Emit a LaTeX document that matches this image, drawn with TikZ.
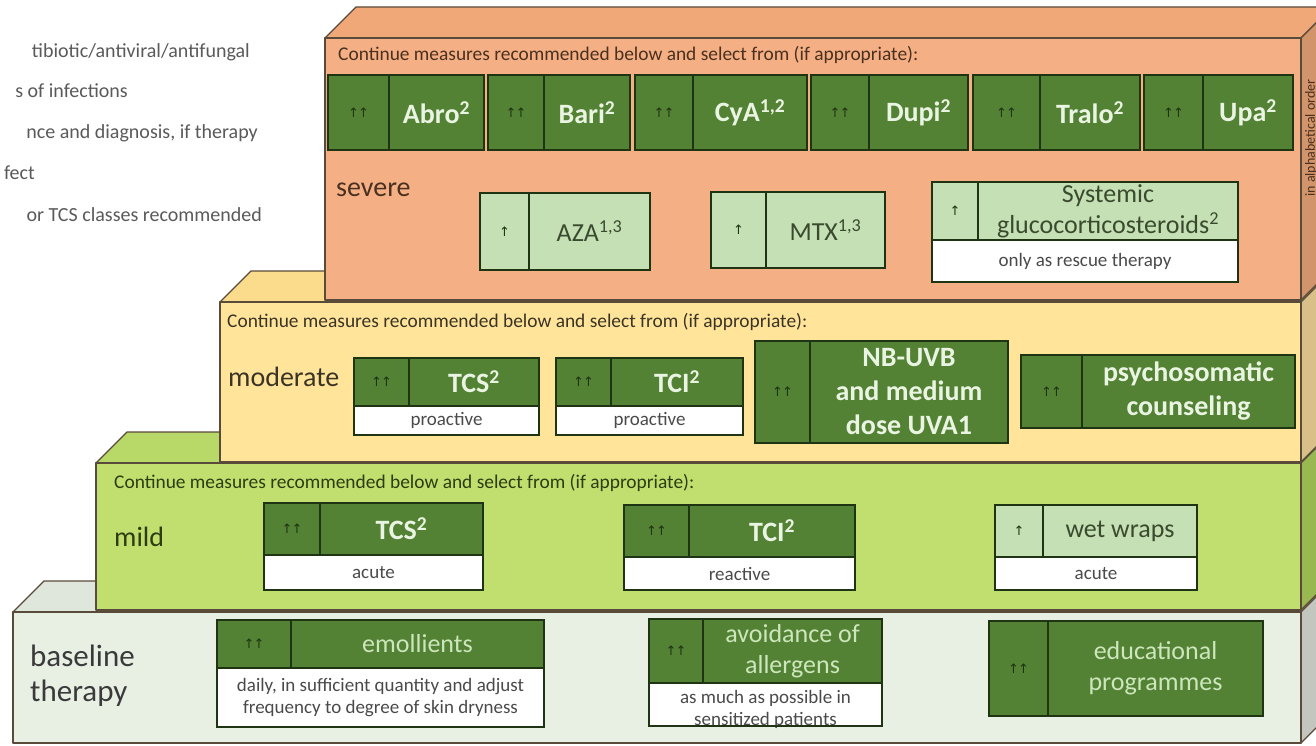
\documentclass[tikz,border=0pt]{standalone}
\usepackage{fontspec}
\setmainfont{Carlito}
\newfontfamily\arrowfont{DejaVu Sans}
\definecolor{sevF}{HTML}{F4B084}
\definecolor{sevT}{HTML}{F0A878}
\definecolor{sevS}{HTML}{D2946A}
\definecolor{modF}{HTML}{FFE49A}
\definecolor{modT}{HTML}{FBDC8C}
\definecolor{modS}{HTML}{D8C088}
\definecolor{milF}{HTML}{C0DF6E}
\definecolor{milT}{HTML}{B8D868}
\definecolor{milS}{HTML}{9AB852}
\definecolor{basF}{HTML}{E8F0E4}
\definecolor{basT}{HTML}{DFE6DB}
\definecolor{basS}{HTML}{C2C6BF}
\definecolor{dkG}{HTML}{548235}
\definecolor{ltG}{HTML}{C5E0B4}
\definecolor{boxedge}{HTML}{1E3412}
\definecolor{layeredge}{HTML}{5A4A3A}
\definecolor{txtlight}{HTML}{EAF4E2}
\definecolor{txtpale}{HTML}{CDE6BC}
\definecolor{txtdark}{HTML}{3A4A2E}
\definecolor{notegrey}{HTML}{4A4A4A}
\definecolor{leggrey}{HTML}{5A5A5A}
\definecolor{sevtxt}{HTML}{4A3020}
\definecolor{modtxt}{HTML}{3A3426}
\definecolor{miltxt}{HTML}{2E3C14}
\definecolor{bastxt}{HTML}{3A3A3A}

\newcommand{\pyrlayer}[7]{%
  \draw[layerline, fill=#5] (#1,#2) -- ({#1+31},{#2-31}) -- (1332,{#2-31}) -- (1301,#2) -- cycle;
  \draw[layerline, fill=#6] (1301,#2) -- (1332,{#2-31}) -- (1332,{#3-31}) -- (1301,#3) -- cycle;
  \draw[layerline, fill=#4] (#1,#2) rectangle (1301,#3);
  \coordinate (#7) at (#1,#2);
}
\newcommand{\dkbox}[8]{%
  \draw[boxline, fill=dkG] (#2,#5) rectangle (#4,#6);
  \draw[boxline] (#3,#5) -- (#3,#6);
  \node[arr] (#1-ar) at ({(#2+#3)/2},{(#5+#6)/2}) {#7};
  \node[dktxt] (#1) at ({(#3+#4)/2},{(#5+#6)/2}) {#8};
}
\newcommand{\ltbox}[8]{%
  \draw[boxline, fill=ltG] (#2,#5) rectangle (#4,#6);
  \draw[boxline] (#3,#5) -- (#3,#6);
  \node[arr] (#1-ar) at ({(#2+#3)/2},{(#5+#6)/2}) {#7};
  \node[lttxt] (#1) at ({(#3+#4)/2},{(#5+#6)/2}) {#8};
}
\newcommand{\notebox}[6]{%
  \draw[boxline, fill=white] (#2,#4) rectangle (#3,#5);
  \node[notetxt] (#1) at ({(#2+#3)/2},{(#4+#5)/2}) {#6};
}

\begin{document}
\begin{tikzpicture}[x=1pt,y=-1pt,
  layerline/.style={draw=layeredge, line width=1.3pt, line join=round},
  boxline/.style={draw=boxedge, line width=1.8pt},
  arr/.style={font=\arrowfont\fontsize{13}{13}\selectfont, text=boxedge, inner sep=0pt},
  dktxt/.style={font=\bfseries\fontsize{28}{34}\selectfont, text=txtlight, align=center, inner sep=0pt},
  lttxt/.style={font=\fontsize{26}{31}\selectfont, text=txtdark, align=center, inner sep=0pt},
  notetxt/.style={font=\fontsize{19}{22}\selectfont, text=notegrey, align=center, inner sep=0pt},
  conttxt/.style={anchor=west, font=\fontsize{19.4}{22}\selectfont, inner sep=0pt},
  lvltxt/.style={anchor=west, font=\fontsize{28}{32}\selectfont, inner sep=0pt},
  legtxt/.style={anchor=base east, font=\fontsize{20}{22}\selectfont, text=leggrey, inner sep=0pt}]
\useasboundingbox[fill=white] (0,0) rectangle (1316,746);
\clip (0,0) rectangle (1316,746);

% legend fragments
\node[legtxt] (leg1) at (250,58) {tibiotic/antiviral/antifungal};
\node[legtxt] (leg2) at (128,98) {s of infections};
\node[legtxt] (leg3) at (258,139) {nce and diagnosis, if therapy};
\node[legtxt] (leg4) at (35,179) {fect};
\node[legtxt] (leg5) at (262,221) {or TCS classes recommended};

% layers (bottom first)
\pyrlayer{13}{612}{743}{basF}{basT}{basS}{basL}
\pyrlayer{96}{463}{610}{milF}{milT}{milS}{milL}
\pyrlayer{220}{302}{462}{modF}{modT}{modS}{modL}
\pyrlayer{325}{38}{300}{sevF}{sevT}{sevS}{sevL}

\node[rotate=90, font=\fontsize{14}{14}\selectfont, text=sevtxt, inner sep=0pt] (alpha) at (1311,138) {in alphabetical order};

% severe
\node[conttxt, text=sevtxt] (csev) at (338,55) {Continue measures recommended below and select from (if appropriate):};
\dkbox{abro}{328}{389}{484}{75}{150}{↑\kern-1pt↑}{Abro\textsuperscript{2}}
\dkbox{bari}{488}{544}{630}{75}{150}{↑\kern-1pt↑}{Bari\textsuperscript{2}}
\dkbox{cya}{635}{693}{807}{75}{150}{↑\kern-1pt↑}{CyA\textsuperscript{1,2}}
\dkbox{dupi}{811}{869}{968}{75}{150}{↑\kern-1pt↑}{Dupi\textsuperscript{2}}
\dkbox{tralo}{973}{1040}{1140}{75}{150}{↑\kern-1pt↑}{Tralo\textsuperscript{2}}
\dkbox{upa}{1144}{1203}{1293}{75}{150}{↑\kern-1pt↑}{Upa\textsuperscript{2}}
\node[lvltxt, text=sevtxt] (lsev) at (336,190) {severe};
\ltbox{aza}{480}{529}{650}{193}{270}{↑}{AZA\textsuperscript{1,3}}
\ltbox{mtx}{711}{766}{885}{192}{268}{↑}{MTX\textsuperscript{1,3}}
\ltbox{gcs}{932}{978}{1238}{182}{240}{↑}{Systemic\\glucocorticosteroids\textsuperscript{2}}
\notebox{gcsn}{932}{1238}{240}{282}{only as rescue therapy}

% moderate
\node[conttxt, text=modtxt] (cmod) at (227,322) {Continue measures recommended below and select from (if appropriate):};
\node[lvltxt, text=modtxt] (lmod) at (228,377) {moderate};
\dkbox{tcsm}{354}{409}{539}{358}{406}{↑\kern-1pt↑}{TCS\textsuperscript{2}}
\notebox{tcsmn}{354}{539}{406}{435}{proactive}
\dkbox{tcim}{556}{611}{743}{358}{406}{↑\kern-1pt↑}{TCI\textsuperscript{2}}
\notebox{tcimn}{556}{743}{406}{435}{proactive}
\dkbox{uvb}{755}{810}{1008}{341}{443}{↑\kern-1pt↑}{NB-UVB\\and medium\\dose UVA1}
\dkbox{psy}{1021}{1082}{1295}{355}{428}{↑\kern-1pt↑}{psychosomatic\\counseling}

% mild
\node[conttxt, text=miltxt] (cmild) at (114,483) {Continue measures recommended below and select from (if appropriate):};
\node[lvltxt, text=miltxt] (lmild) at (114,537) {mild};
\dkbox{tcsl}{264}{320}{483}{503}{555}{↑\kern-1pt↑}{TCS\textsuperscript{2}}
\notebox{tcsln}{264}{483}{555}{590}{acute}
\dkbox{tcil}{624}{689}{855}{505}{557}{↑\kern-1pt↑}{TCI\textsuperscript{2}}
\notebox{tciln}{624}{855}{557}{590}{reactive}
\ltbox{wet}{995}{1043}{1197}{505}{557}{↑}{wet wraps}
\notebox{wetn}{995}{1197}{557}{590}{acute}

% baseline
\node[lvltxt, text=bastxt, font=\fontsize{31}{35}\selectfont, align=left] (lbase) at (30,676) {baseline\\therapy};
\begin{scope}[dktxt/.style={font=\fontsize{26}{31}\selectfont, text=txtpale, align=center, inner sep=0pt}]
\dkbox{emol}{217}{291}{544}{620}{668}{↑\kern-1pt↑}{emollients}
\notebox{emoln}{217}{544}{668}{727}{daily, in sufficient quantity and adjust\\frequency to degree of skin dryness}
\dkbox{avoid}{649}{703}{882}{619}{683}{↑\kern-1pt↑}{avoidance of\\allergens}
\draw[boxline, fill=white] (649,683) rectangle (882,726);
\node[notetxt] (avoidn) at (765.5,709) {as much as possible in\\sensitized patients};
\draw[boxline] (649,726) -- (882,726);
\dkbox{edu}{989}{1048}{1263}{621}{716}{↑\kern-1pt↑}{educational\\programmes}
\end{scope}
\end{tikzpicture}
\end{document}
